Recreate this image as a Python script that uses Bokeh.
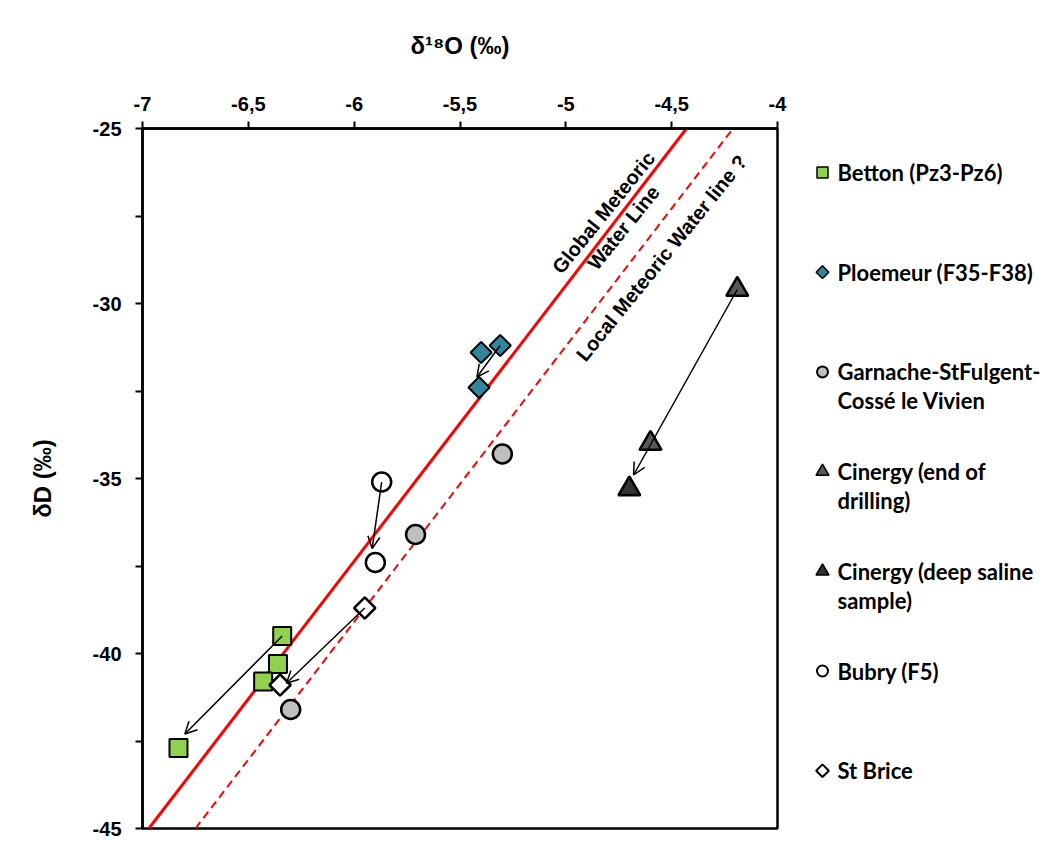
from bokeh.plotting import figure
from bokeh.models import Range1d, FixedTicker, ColumnDataSource, Arrow, OpenHead
from bokeh.layouts import row
from bokeh.embed import file_html
from bokeh.resources import INLINE
from bokeh.core.properties import value

# ---------------- data ----------------
betton_x = [-6.34, -6.36, -6.43, -6.83]
betton_y = [-39.5, -40.3, -40.8, -42.7]
ploemeur_x = [-5.40, -5.31, -5.41]
ploemeur_y = [-31.4, -31.2, -32.4]
garnache_x = [-5.30, -5.71, -6.30]
garnache_y = [-34.3, -36.6, -41.6]
cinergy_end_x = [-4.19, -4.60]
cinergy_end_y = [-29.6, -34.0]
cinergy_deep_x = [-4.70]
cinergy_deep_y = [-35.3]
bubry_x = [-5.87, -5.90]
bubry_y = [-35.1, -37.4]
stbrice_x = [-5.95, -6.35]
stbrice_y = [-38.7, -40.9]

arrow_x0 = [-6.34, -5.31, -5.87, -5.95, -4.19]
arrow_y0 = [-39.5, -31.2, -35.1, -38.7, -29.6]
arrow_x1 = [-6.80, -5.42, -5.915, -6.32, -4.68]
arrow_y1 = [-42.3, -32.1, -37.0, -40.85, -34.9]

gmwl_x = [-6.97, -4.43]
gmwl_y = [-45.0, -25.0]
lmwl_x = [-6.75, -4.21]
lmwl_y = [-45.0, -25.0]

x_ticks = [-7, -6.5, -6, -5.5, -5, -4.5, -4]
x_tick_labels = ["-7", "-6,5", "-6", "-5,5", "-5", "-4,5", "-4"]
y_ticks = [-45, -40, -35, -30, -25]
y_tick_labels = ["-45", "-40", "-35", "-30", "-25"]
y_minor_ticks = [-42.5, -37.5, -32.5, -27.5]

legend_labels = [
    "Betton (Pz3-Pz6)",
    "Ploemeur (F35-F38)",
    "Garnache-StFulgent-\nCossé le Vivien",
    "Cinergy (end of\ndrilling)",
    "Cinergy (deep saline\nsample)",
    "Bubry (F5)",
    "St Brice",
]

# ---------------- styles ----------------
AX_FONT = "Liberation Sans"
BOLD_FONT = value("Liberation Sans")
LEG_FONT = value("Lato")
GREEN = "#92D050"
TEAL = "#31859C"
GREY = "#BFBFBF"
TRI_END = "#595959"
TRI_DEEP = "#333333"

FL, FT, FW, FH, FB = 142, 128, 635, 700, 12   # frame left/top/width/height, bottom border
MAIN_W = FL + FW + 10

p = figure(frame_width=FW, frame_height=FH, x_range=Range1d(-7, -4),
           y_range=Range1d(-45, -25), x_axis_location="above",
           toolbar_location=None, output_backend="svg",
           min_border_left=FL, min_border_top=FT, min_border_right=10,
           min_border_bottom=FB)
p.grid.visible = False
p.outline_line_color = "black"
p.outline_line_width = 2.5

# axes
xa = p.xaxis[0]
xa.ticker = FixedTicker(ticks=x_ticks)
xa.major_label_overrides = {float(t): l for t, l in zip(x_ticks, x_tick_labels)}
xa.minor_tick_line_color = None
ya = p.yaxis[0]
ya.ticker = FixedTicker(ticks=y_ticks, minor_ticks=y_minor_ticks)
ya.major_label_overrides = {float(t): l for t, l in zip(y_ticks, y_tick_labels)}
for ax in (xa, ya):
    ax.axis_line_width = 2.5
    ax.axis_line_color = "black"
    ax.major_tick_line_width = 2
    ax.major_tick_out = 7
    ax.major_tick_in = 0
    ax.minor_tick_line_width = 2
    ax.minor_tick_out = 7
    ax.minor_tick_in = 0
    ax.major_label_text_font = AX_FONT
    ax.major_label_text_font_style = "bold"
    ax.major_label_text_font_size = "20px"
    ax.major_label_text_color = "black"
    ax.axis_label_text_font = AX_FONT
    ax.axis_label_text_font_style = "bold"
    ax.axis_label_text_font_size = "24px"
    ax.axis_label_text_color = "black"
xa.axis_label = "δ¹⁸O (‰)"
xa.major_label_standoff = 11
xa.axis_label_standoff = 35
ya.axis_label = "δD (‰)"
ya.major_label_standoff = 14
ya.axis_label_standoff = 34

# meteoric water lines
p.line(gmwl_x, gmwl_y, line_color="red", line_width=3)
p.line(lmwl_x, lmwl_y, line_color="red", line_width=2, line_dash="8 5")

# line labels
ANG = 0.89
p.text(x=[-4.822, -4.728], y=[-27.4, -27.83], text=["Global Meteoric", "Water Line"],
       angle=ANG, text_align="center", text_baseline="middle",
       text_font=BOLD_FONT, text_font_style="bold", text_font_size="20px",
       text_color="black")
p.text(x=[-4.548], y=[-28.7], text=["Local Meteoric Water line ?"],
       angle=ANG, text_align="center", text_baseline="middle",
       text_font=BOLD_FONT, text_font_style="bold", text_font_size="20px",
       text_color="black")

# arrows
asrc = ColumnDataSource(dict(x0=arrow_x0, y0=arrow_y0, x1=arrow_x1, y1=arrow_y1))
p.add_layout(Arrow(x_start="x0", y_start="y0", x_end="x1", y_end="y1", source=asrc,
                   line_width=1.5, line_color="black",
                   end=OpenHead(size=12, line_width=1.5, line_color="black")))

# markers
p.scatter(betton_x, betton_y, marker="square", size=18, fill_color=GREEN,
          line_color="black", line_width=2)
p.scatter(ploemeur_x, ploemeur_y, marker="square", angle=0.785398, size=15,
          fill_color=TEAL, line_color="black", line_width=2)
p.scatter(garnache_x, garnache_y, marker="circle", size=19, fill_color=GREY,
          line_color="black", line_width=2.5)
p.scatter(cinergy_end_x, cinergy_end_y, marker="triangle", size=22, fill_color=TRI_END,
          line_color="black", line_width=2.5)
p.scatter(cinergy_deep_x, cinergy_deep_y, marker="triangle", size=22, fill_color=TRI_DEEP,
          line_color="black", line_width=2.5)
p.scatter(bubry_x, bubry_y, marker="circle", size=19, fill_color="white",
          line_color="black", line_width=2.5)
p.scatter(stbrice_x, stbrice_y, marker="square", angle=0.785398, size=15,
          fill_color="white", line_color="black", line_width=2.5)

# ---------------- legend panel (page-pixel coordinates) ----------------
LW = 266
leg = figure(frame_width=LW, frame_height=FH,
             x_range=Range1d(MAIN_W, MAIN_W + LW), y_range=Range1d(FT + FH, FT),
             x_axis_location=None, y_axis_location=None, toolbar_location=None,
             output_backend="svg", min_border_left=0, min_border_right=0,
             min_border_top=FT, min_border_bottom=FB)
leg.grid.visible = False
leg.outline_line_color = None

row_y = [172 + i * 99.7 for i in range(len(legend_labels))]
mx = 822
styles = [
    dict(marker="square", size=11, fill_color=GREEN, line_width=1.5),
    dict(marker="square", angle=0.785398, size=9, fill_color=TEAL, line_width=1.5),
    dict(marker="circle", size=11, fill_color=GREY, line_width=2),
    dict(marker="triangle", size=13, fill_color=TRI_END, line_width=1.5),
    dict(marker="triangle", size=13, fill_color=TRI_DEEP, line_width=1.5),
    dict(marker="circle", size=11, fill_color="white", line_width=2),
    dict(marker="square", angle=0.785398, size=9, fill_color="white", line_width=2),
]
tx, ty, tt = [], [], []
for yy, lab, st in zip(row_y, legend_labels, styles):
    leg.scatter([mx], [yy], line_color="black", **st)
    for j, line in enumerate(lab.split("\n")):
        tx.append(837)
        ty.append(yy + j * 29)
        tt.append(line)
leg.text(x=tx, y=ty, text=tt, text_align="left", text_baseline="middle",
         text_font=LEG_FONT, text_font_style="bold", text_font_size="22px",
         text_color="black")

layout = row(p, leg)
open("out.html", "w").write(file_html(layout, INLINE))
